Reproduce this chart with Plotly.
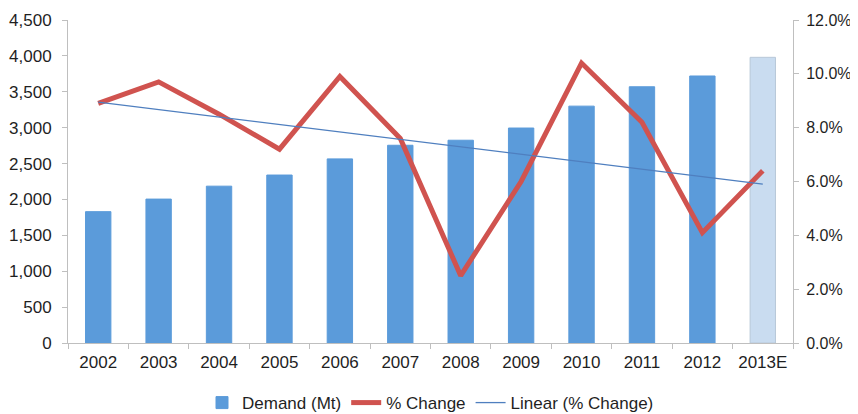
import plotly.graph_objects as go

years = ["2002", "2003", "2004", "2005", "2006", "2007", "2008", "2009", "2010", "2011", "2012", "2013E"]
demand = [1830, 2005, 2185, 2340, 2565, 2755, 2825, 2995, 3300, 3570, 3720, 3980]
pct_change = [8.9, 9.7, 8.5, 7.2, 9.9, 7.6, 2.5, 6.0, 10.4, 8.2, 4.1, 6.4]
linear_years = ["2002", "2013E"]
linear_vals = [8.95, 5.9]

bar_colors = ["#5B9BDA"] * (len(years) - 1) + ["#C9DCF0"]
bar_lines = ["#5B9BDA"] * (len(years) - 1) + ["#B8C8D8"]

font_family = "Liberation Sans, Arial, sans-serif"

fig = go.Figure()
fig.add_trace(go.Bar(
    x=years, y=demand, name="Demand (Mt)",
    marker=dict(color=bar_colors, line=dict(color=bar_lines, width=1)),
    yaxis="y",
))
fig.add_trace(go.Scatter(
    x=years, y=pct_change, name="% Change", mode="lines",
    line=dict(color="#D0534F", width=5), yaxis="y2",
))
fig.add_trace(go.Scatter(
    x=linear_years, y=linear_vals, name="Linear (% Change)", mode="lines",
    line=dict(color="#4F7FBF", width=1.3), yaxis="y2",
))

fig.update_layout(
    width=850, height=406,
    margin=dict(l=60, r=65, t=12, b=71, autoexpand=False),
    paper_bgcolor="white", plot_bgcolor="white",
    font=dict(family=font_family, size=17, color="#1f1f1f"),
    bargap=0.58,
    showlegend=True,
    legend=dict(orientation="h", x=0.5, xanchor="center", yref="container",
                y=0.027, yanchor="middle", font=dict(size=17), tracegroupgap=0),
    xaxis=dict(
        type="category", showgrid=False, showline=True, linecolor="#BFBFBF", linewidth=1,
        ticks="outside", tickson="boundaries", ticklen=5, tickcolor="#BFBFBF",
        tickfont=dict(size=17), range=[-0.5, 11.5], automargin=False,
        ticklabelstandoff=4,
    ),
    yaxis=dict(
        range=[0, 4500], dtick=500, tickformat=",d", showgrid=False, zeroline=False,
        showline=True, linecolor="#BFBFBF", linewidth=1, automargin=False,
        ticks="outside", ticklen=5, tickcolor="#BFBFBF", tickfont=dict(size=17),
        ticklabelstandoff=7,
    ),
    yaxis2=dict(
        range=[0, 12], dtick=2, overlaying="y", side="right", showgrid=False, zeroline=False,
        ticksuffix="%", tickformat=".1f", automargin=False,
        showline=True, linecolor="#BFBFBF", linewidth=1,
        ticks="outside", ticklen=5, tickcolor="#BFBFBF", tickfont=dict(size=16),
        ticklabelstandoff=4,
    ),
)

fig.write_html("out.html")
